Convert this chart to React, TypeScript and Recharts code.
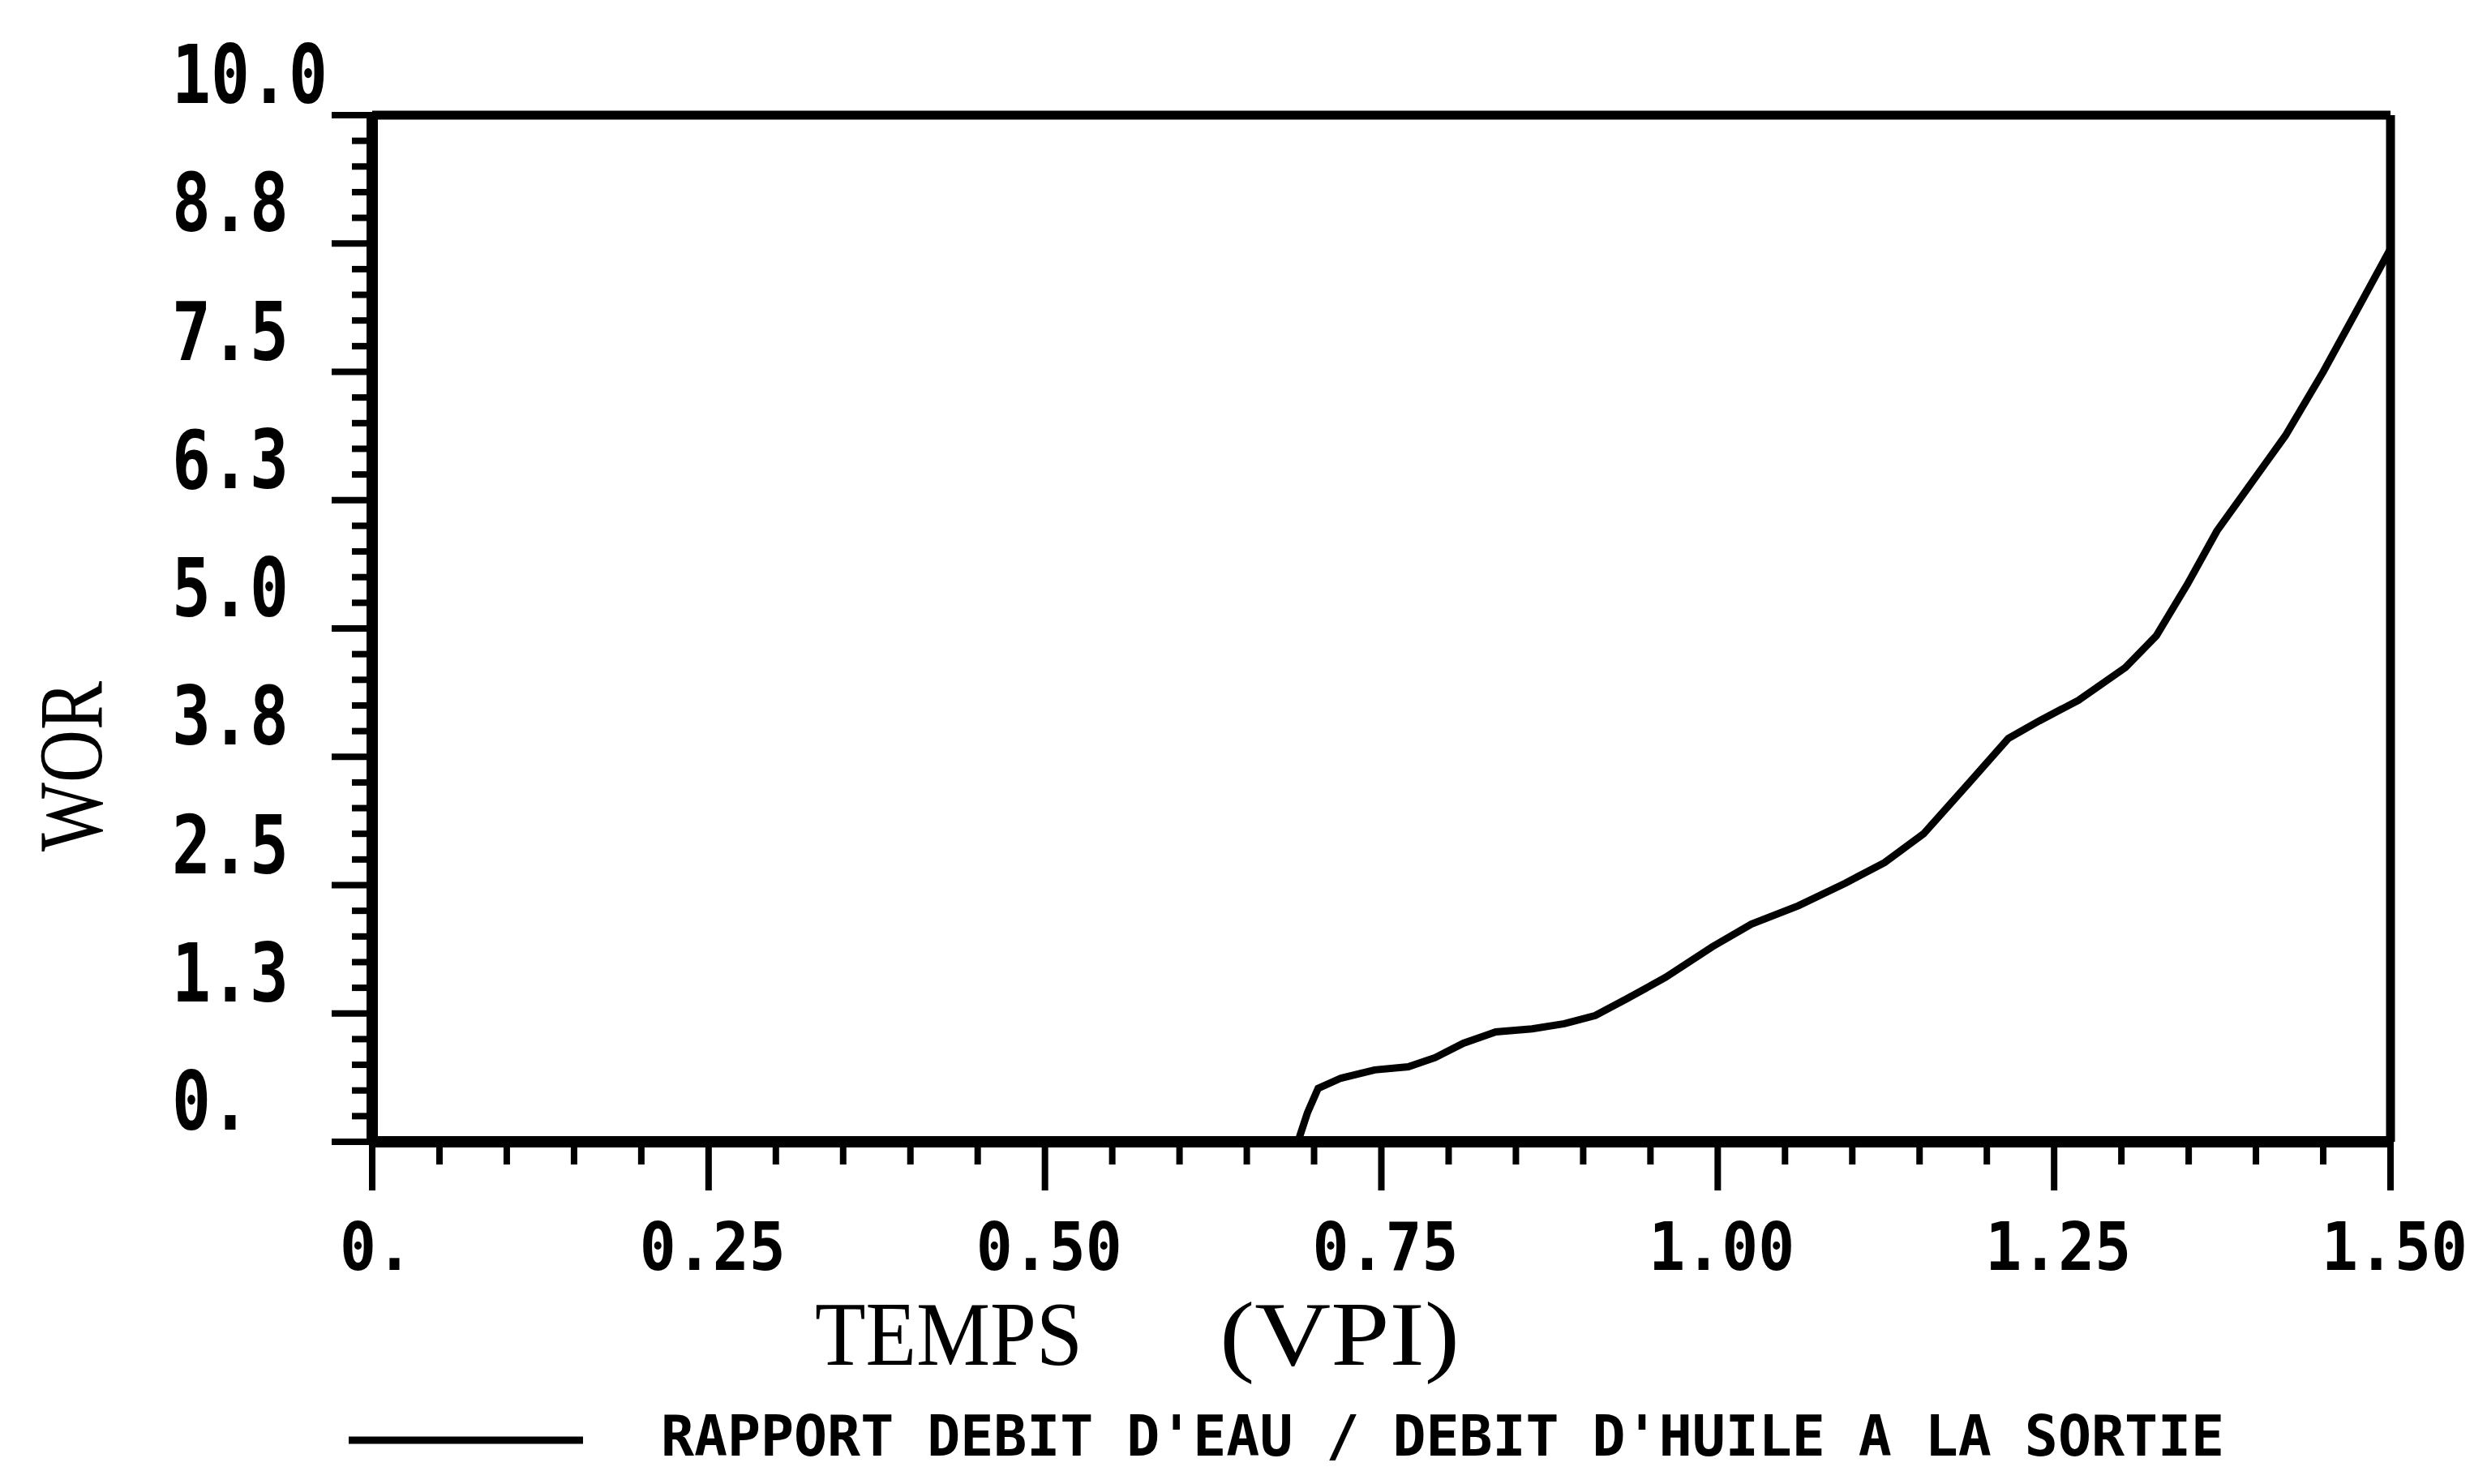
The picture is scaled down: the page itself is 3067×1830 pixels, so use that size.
import React from 'react';
import { LineChart, Line, XAxis, YAxis, ReferenceLine } from 'recharts';

const W = 3067;
const H = 1830;
const PLOT_LEFT = 459;
const PLOT_RIGHT = 2948;
const PLOT_TOP = 142;
const PLOT_BOTTOM = 1408;
const Y_AXIS_W = 60;
const X_AXIS_H = 60;

// TEMPS (VPI)
const timeVpi = [
  0, 0.688, 0.695, 0.703, 0.72, 0.745, 0.77, 0.79, 0.811, 0.835, 0.862, 0.886,
  0.909, 0.932, 0.961, 0.996, 1.025, 1.06, 1.095, 1.124, 1.153, 1.187, 1.216,
  1.239, 1.268, 1.303, 1.326, 1.349, 1.371, 1.394, 1.422, 1.45, 1.473, 1.5,
];
// WOR
const worValues = [
  0, 0, 0.28, 0.52, 0.62, 0.7, 0.73, 0.82, 0.96, 1.07, 1.1, 1.15,
  1.23, 1.39, 1.6, 1.9, 2.12, 2.3, 2.52, 2.72, 3.0, 3.5, 3.93,
  4.1, 4.3, 4.62, 4.93, 5.43, 5.95, 6.37, 6.88, 7.5, 8.05, 8.7,
];

const xMajorTicks = [0, 0.25, 0.5, 0.75, 1, 1.25, 1.5];
const xTickLabels = ['0.', '0.25', '0.50', '0.75', '1.00', '1.25', '1.50'];
const yMajorTicks = [0, 1.25, 2.5, 3.75, 5, 6.25, 7.5, 8.75, 10];
const yTickLabels = ['0.', '1.3', '2.5', '3.8', '5.0', '6.3', '7.5', '8.8', '10.0'];

// minor ticks every 0.05 on x, every 0.25 on y
const xAllTicks = Array.from({ length: 31 }, (_, i) => +(i * 0.05).toFixed(2));
const yAllTicks = Array.from({ length: 41 }, (_, i) => i * 0.25);

const data = timeVpi.map((t, i) => ({ t, wor: worValues[i] }));

const monoBold = {
  fontFamily: '"DejaVu Sans Mono", monospace',
  fontWeight: 700,
};

const findMajor = (list: number[], v: number) =>
  list.findIndex((m) => Math.abs(m - v) < 1e-6);

const XTick = (props: any) => {
  const { x, payload } = props;
  const idx = findMajor(xMajorTicks, payload.value);
  const major = idx >= 0;
  return (
    <g>
      <line x1={x} x2={x} y1={PLOT_BOTTOM} y2={PLOT_BOTTOM + (major ? 60 : 28)} stroke="#000" strokeWidth={8} />
      {major && (
        <text
          x={x + 5}
          y={PLOT_BOTTOM + 158}
          textAnchor="middle"
          textLength={xTickLabels[idx].length * 45}
          lengthAdjust="spacingAndGlyphs"
          fill="#000"
          fontSize={82}
          {...monoBold}
        >
          {xTickLabels[idx]}
        </text>
      )}
    </g>
  );
};

const YTick = (props: any) => {
  const { y, payload } = props;
  const idx = findMajor(yMajorTicks, payload.value);
  const major = idx >= 0;
  return (
    <g>
      <line x1={PLOT_LEFT - (major ? 50 : 25)} x2={PLOT_LEFT} y1={y} y2={y} stroke="#000" strokeWidth={8} />
      {major && (
        <text
          x={212}
          y={y - 15}
          textAnchor="start"
          textLength={yTickLabels[idx].length * 48}
          lengthAdjust="spacingAndGlyphs"
          fill="#000"
          fontSize={100}
          {...monoBold}
        >
          {yTickLabels[idx]}
        </text>
      )}
    </g>
  );
};

const serif = { fontFamily: '"Liberation Serif", serif', fontSize: 113, fill: '#000' };

export default function App() {
  return (
    <div style={{ position: 'absolute', left: 0, top: 0, width: W, height: H, background: '#fff' }}>
      <LineChart
        width={W}
        height={H}
        data={data}
        margin={{
          top: PLOT_TOP,
          right: W - PLOT_RIGHT,
          bottom: H - PLOT_BOTTOM - X_AXIS_H,
          left: PLOT_LEFT - Y_AXIS_W,
        }}
      >
        <XAxis
          dataKey="t"
          type="number"
          domain={[0, 1.5]}
          ticks={xAllTicks}
          interval={0}
          tick={<XTick />}
          tickLine={false}
          axisLine={{ stroke: '#000', strokeWidth: 14 }}
          height={X_AXIS_H}
        />
        <YAxis
          type="number"
          domain={[0, 10]}
          ticks={yAllTicks}
          interval={0}
          tick={<YTick />}
          tickLine={false}
          axisLine={{ stroke: '#000', strokeWidth: 14 }}
          width={Y_AXIS_W}
        />
        <ReferenceLine y={10} stroke="#000" strokeWidth={11} />
        <ReferenceLine x={1.5} stroke="#000" strokeWidth={11} />
        <Line
          type="linear"
          dataKey="wor"
          stroke="#000"
          strokeWidth={9}
          dot={false}
          isAnimationActive={false}
        />
      </LineChart>
      <svg width={W} height={H} style={{ position: 'absolute', left: 0, top: 0, pointerEvents: 'none' }}>
        <text x={125} y={945} transform="rotate(-90 125 945)" textAnchor="middle" textLength={210} lengthAdjust="spacingAndGlyphs" {...serif}>
          WOR
        </text>
        <text x={1170} y={1683} textAnchor="middle" textLength={330} lengthAdjust="spacingAndGlyphs" {...serif}>
          TEMPS
        </text>
        <text x={1652} y={1683} textAnchor="middle" textLength={296} lengthAdjust="spacingAndGlyphs" {...serif}>
          (VPI)
        </text>
        <line x1={430} x2={719} y1={1776} y2={1776} stroke="#000" strokeWidth={9} />
        <text
          x={815}
          y={1795}
          textLength={1928}
          lengthAdjust="spacingAndGlyphs"
          fill="#000"
          fontSize={70}
          {...monoBold}
        >
          RAPPORT DEBIT D'EAU / DEBIT D'HUILE A LA SORTIE
        </text>
      </svg>
    </div>
  );
}
